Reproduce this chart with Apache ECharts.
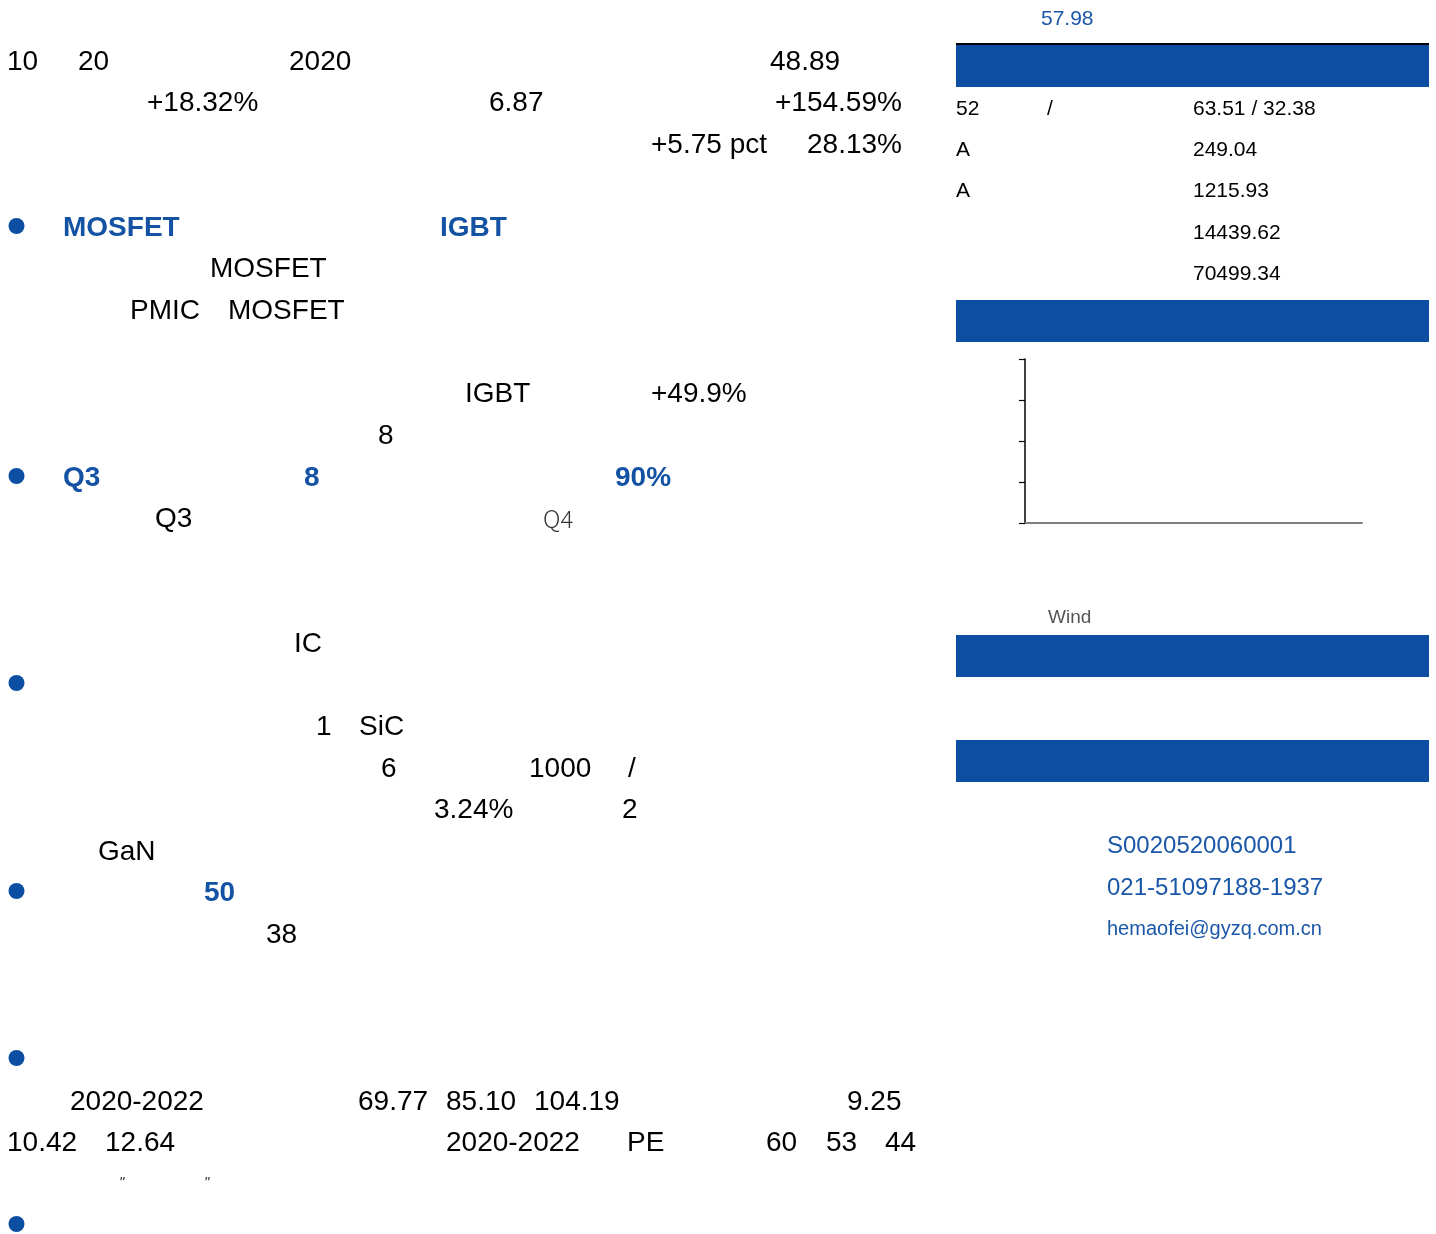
<!DOCTYPE html>
<html>
<head>
<meta charset="utf-8">
<script src="https://cdn.jsdelivr.net/npm/echarts@6/dist/echarts.min.js"></script>
<style>
html,body{margin:0;padding:0;background:#fff;}
#main{width:1436px;height:1234px;}
</style>
</head>
<body>
<div id="main"></div>
<script>
// ---- content ----
const priceText = '57.98';
const rowLabels = ['52', 'A', 'A', '', ''];
const rowMid = ['/', '', '', '', ''];
const rowValues = ['63.51 / 32.38', '249.04', '1215.93', '14439.62', '70499.34'];
const sourceText = 'Wind';
const contactTexts = ['S0020520060001', '021-51097188-1937', 'hemaofei@gyzq.com.cn'];
const xCategories = [''];
const seriesValues = [];
const yTicks = [0, 1, 2, 3, 4];
const bodyText = ['10','20','2020','48.89','+18.32%','6.87','+154.59%','+5.75 pct','28.13%',
  'MOSFET','IGBT','MOSFET','PMIC','MOSFET','IGBT','+49.9%','8','Q3','8','90%','Q3','Q4',
  'IC','1','SiC','6','1000','/','3.24%','2','GaN','50','38',
  '2020-2022','69.77','85.10','104.19','9.25','10.42','12.64','2020-2022','PE','60','53','44'];
const quoteText = ['"', '"'];

// ---- layout ----
const bodyLayout = [[7,60],[78,60],[289,60],[770,60],[147,101],[489,101],[775,101],[651,143],[807,143],
  [63,226,'b'],[440,226,'b'],[210,267],[130,309],[228,309],[465,392],[651,392],[378,434],
  [63,476,'b'],[304,476,'b'],[615,476,'b'],[155,517],[543,517,'q'],
  [294,642],[316,725],[359,725],[381,767],[529,767],[628,767],[434,808],[622,808],[98,850],[204,891,'b'],[266,933],
  [70,1100],[358,1100],[446,1100],[534,1100],[847,1100],[7,1141],[105,1141],[446,1141],[627,1141],[766,1141],[826,1141],[885,1141]];
const bulletYs = [226, 476, 683, 891, 1058, 1224];
const bandYs = [45, 300, 635, 740];
const rowYs = [108, 149, 190, 232, 273];
const quoteXs = [119, 204];

const FONT = '"Liberation Sans", Arial, sans-serif';
const BLUE = '#0C4EA2';
const TBLUE = '#1A57A8';

const graphic = [];
bodyText.forEach((t, i) => {
  const L = bodyLayout[i];
  let font = '28px ' + FONT, fill = '#000';
  if (L[2] === 'b') { font = 'bold 28px ' + FONT; fill = '#1452A3'; }
  if (L[2] === 'q') { font = '300 24px "Noto Sans CJK JP", sans-serif'; fill = '#333'; }
  graphic.push({type:'text', x:L[0], y:L[1] + 2, style:{text:t, font:font, fill:fill, verticalAlign:'middle'}});
});
bulletYs.forEach(y => graphic.push({type:'circle', shape:{cx:16.5, cy:y, r:8}, style:{fill:BLUE}}));
quoteText.forEach((q, i) => graphic.push({type:'text', x:quoteXs[i], y:1183,
  style:{text:q, font:'italic 15px ' + FONT, fill:'#333', verticalAlign:'middle'}}));

graphic.push({type:'text', x:1041, y:19, style:{text:priceText, font:'21px ' + FONT, fill:TBLUE, verticalAlign:'middle'}});
graphic.push({type:'line', shape:{x1:956, y1:44, x2:1429, y2:44}, style:{stroke:'#000', lineWidth:2}});
bandYs.forEach(y => graphic.push({type:'rect', shape:{x:956, y:y, width:473, height:42}, style:{fill:BLUE}}));
rowValues.forEach((v, i) => {
  const y = rowYs[i] + 1;
  graphic.push({type:'text', x:956, y:y, style:{text:rowLabels[i], font:'21px ' + FONT, fill:'#000', verticalAlign:'middle'}});
  graphic.push({type:'text', x:1047, y:y, style:{text:rowMid[i], font:'21px ' + FONT, fill:'#000', verticalAlign:'middle'}});
  graphic.push({type:'text', x:1193, y:y, style:{text:v, font:'21px ' + FONT, fill:'#000', verticalAlign:'middle'}});
});
graphic.push({type:'text', x:1048, y:618, style:{text:sourceText, font:'19px ' + FONT, fill:'#555', verticalAlign:'middle'}});
const contactYs = [846, 888, 929];
const contactSizes = [24, 24, 20];
contactTexts.forEach((c, i) => graphic.push({type:'text', x:1107, y:contactYs[i],
  style:{text:c, font:contactSizes[i] + 'px ' + FONT, fill:TBLUE, verticalAlign:'middle'}}));

const chart = echarts.init(document.getElementById('main'), null, {renderer:'canvas'});
chart.setOption({
  animation: false,
  backgroundColor: '#fff',
  grid: {left:1025, top:359, width:337, height:164, containLabel:false},
  xAxis: {type:'category', data:xCategories, boundaryGap:false,
    axisLine:{show:true, lineStyle:{color:'#7f7f7f', width:2}},
    axisTick:{show:false}, axisLabel:{show:false}, splitLine:{show:false}},
  yAxis: {type:'value', min:yTicks[0], max:yTicks[yTicks.length-1], interval:1,
    axisLine:{show:true, lineStyle:{color:'#000', width:1.5}},
    axisTick:{show:true, length:6, lineStyle:{color:'#000', width:1.2}},
    axisLabel:{show:false}, splitLine:{show:false}},
  series: [{type:'line', data:seriesValues, symbol:'none', lineStyle:{color:BLUE}}],
  graphic: graphic
});
</script>
</body>
</html>
